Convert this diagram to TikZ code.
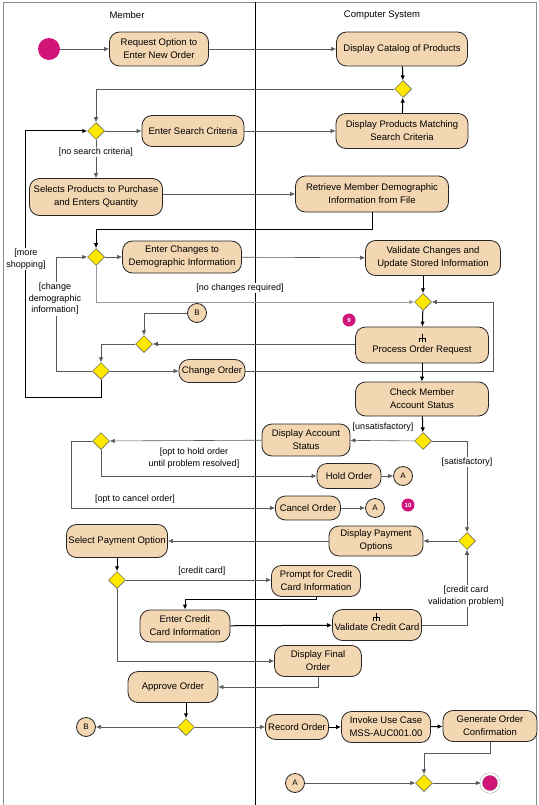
\documentclass[tikz,border=0pt]{standalone}
\usepackage{fontspec}
\setmainfont{Liberation Sans}
\usetikzlibrary{shapes.geometric, arrows.meta, positioning}

\definecolor{actfill}{RGB}{243,214,178}
\definecolor{decfill}{RGB}{255,232,0}
\definecolor{startfill}{RGB}{208,20,120}

\tikzset{
  act/.style={draw=black!85, line width=0.8pt, fill=actfill, rounded corners=10pt, align=center, inner sep=1pt, font=\fontsize{9.5}{13}\selectfont},
  dec/.style={diamond, draw=black!70, line width=0.5pt, fill=decfill, minimum width=17pt, minimum height=17pt, inner sep=0pt},
  conn/.style={circle, draw=black!85, line width=0.8pt, fill=actfill, minimum size=19pt, inner sep=0pt, font=\fontsize{8}{9}\selectfont},
  guard/.style={fill=white, inner sep=1pt, align=center, font=\fontsize{9}{11.5}\selectfont},
  flow/.style={draw=black!65, line width=0.6pt, -{Latex[length=5pt,width=4.5pt]}},
  flowthick/.style={flow, draw=black, line width=1pt},
  note/.style={circle, fill=startfill, minimum size=13pt, inner sep=0pt, text=white, font=\fontsize{6}{6}\selectfont\bfseries},
}

\newcommand{\rakeat}[1]{\draw[line width=0.6pt] #1 ++(0,-4) -- ++(0,8) #1 ++(-3,0) -- ++(6,0) -- ++(0,4) #1 ++(-3,0) -- ++(0,4);}

\begin{document}
\begin{tikzpicture}[x=1pt, y=-1pt]
        \useasboundingbox (0,0) rectangle (538,805);

        % swimlanes
        \draw[black!45, line width=0.6pt] (3,805) -- (3,2) -- (536,2) -- (536,805);
        \draw[black, line width=0.7pt] (255,2) -- (255,805);
        \node[font=\fontsize{9.5}{11}\selectfont] (member) at (127,15) {Member};
        \node[font=\fontsize{9.5}{11}\selectfont] (system) at (382,15) {Computer System};

        % ordering
        \node[circle, fill=startfill, minimum size=22pt, inner sep=0pt] (start) at (49,49) {};
        \node[act, minimum width=99pt, minimum height=34pt] (req) at (159,49) {Request Option to\\Enter New Order};
        \node[act, minimum width=131pt, minimum height=34pt] (cat) at (402,49) {Display Catalog of Products};
        \node[dec] (d1) at (403,89) {};
        \node[act, minimum width=132pt, minimum height=35pt] (match) at (402,131) {Display Products Matching\\Search Criteria};
        \node[dec] (d2) at (96,131) {};
        \node[act, minimum width=102pt, minimum height=31pt] (search) at (193,131) {Enter Search Criteria};
        \node[act, minimum width=133pt, minimum height=37pt] (sel) at (96,197) {Selects Products to Purchase\\and Enters Quantity};
        \node[act, minimum width=153pt, minimum height=36pt] (ret) at (372,194) {Retrieve Member Demographic\\Information from File};

        % demographics
        \node[dec] (d3) at (96,257) {};
        \node[act, minimum width=119pt, minimum height=32pt] (chg) at (182,257) {Enter Changes to\\Demographic Information};
        \node[act, minimum width=135pt, minimum height=35pt] (val) at (433,258) {Validate Changes and\\Update Stored Information};
        \node[dec] (d4) at (423,302) {};
        \node[conn] (b1) at (197,313) {B};
        \node[act, minimum width=133pt, minimum height=36pt] (proc) at (422,345) {\rule{0pt}{16pt}Process Order Request};
        \node[dec] (d5) at (144,344) {};
        \node[dec] (d6) at (101,371) {};
        \node[act, minimum width=66pt, minimum height=23pt] (co) at (212,371) {Change Order};
        \node[act, minimum width=133pt, minimum height=34pt] (chk) at (422,399) {Check Member\\Account Status};
        \coordinate (ms) at (25,397);
        \coordinate (cd) at (56,371);
        \coordinate (cr) at (493,371);

        % account status
        \node[dec] (d7) at (423,441) {};
        \node[act, minimum width=88pt, minimum height=32pt] (das) at (306,440) {Display Account\\Status};
        \node[dec] (d8) at (101,441) {};
        \node[act, minimum width=64pt, minimum height=25pt] (hold) at (349,476) {Hold Order};
        \node[conn] (a1) at (403,476) {A};
        \node[act, minimum width=65pt, minimum height=24pt] (cancel) at (308,508) {Cancel Order};
        \node[conn] (a2) at (375,508) {A};
        \coordinate (cc) at (71,441);

        % payment
        \node[act, minimum width=94pt, minimum height=30pt] (dpo) at (376,541) {Display Payment\\Options};
        \node[dec] (d9) at (467,541) {};
        \node[act, minimum width=101pt, minimum height=33pt] (spo) at (117,541) {Select Payment Option};
        \node[dec] (d10) at (117,580) {};
        \node[act, minimum width=89pt, minimum height=31pt] (prompt) at (316,581) {Prompt for Credit\\Card Information};
        \node[act, minimum width=90pt, minimum height=32pt] (ecc) at (185,626) {Enter Credit\\Card Information};
        \node[act, minimum width=89pt, minimum height=31pt] (vcc) at (377,625) {\rule{0pt}{11pt}Validate Credit Card};
        \node[act, minimum width=87pt, minimum height=31pt] (dfo) at (318,661) {Display Final\\Order};
        \node[act, minimum width=90pt, minimum height=31pt] (app) at (173,687) {Approve Order};

        % completion
        \node[dec] (d11) at (186,727) {};
        \node[conn] (b2) at (86,727) {B};
        \node[act, minimum width=63pt, minimum height=25pt] (rec) at (297,727) {Record Order};
        \node[act, minimum width=89pt, minimum height=31pt] (inv) at (386,727) {Invoke Use Case\\MSS-AUC001.00};
        \node[act, minimum width=94pt, minimum height=31pt] (gen) at (490,726) {Generate Order\\Confirmation};
        \node[conn] (a3) at (295,783) {A};
        \node[dec] (d12) at (424,783) {};
        \node[circle, fill=startfill, draw=black!40, line width=0.4pt, double=white, double distance=2pt, minimum size=18pt, inner sep=0pt] (fin) at (490,783) {};

        \node[note] (n9) at (349,320) {9};
        \node[note] (n10) at (408,505) {10};

        \rakeat{(422,338)}
        \rakeat{(376,617)}

        % flows
        \draw[flow] (start) -- (req);
        \draw[flow] (req) -- (cat);
        \draw[flowthick] (cat) -- (d1);
        \draw[flowthick] (match) -- (d1);
        \draw[flow] (d1) -| (d2);
        \draw[flow] (d2) -- (search);
        \draw[flow] (search) -- (match);
        \draw[flow] (d2) -- (sel);
        \draw[flow] (sel.east |- ret) -- (ret.west);
        \draw[flowthick] (ret.south) -- ++(0,17) -| (d3);
        \draw[flow] (d3) -- (chg);
        \draw[flow] (chg) -- (val);
        \draw[flowthick] (d4 |- val.south) -- (d4);
        \draw[flow, draw=black!40] (d3) |- (d4);
        \draw[flow] (co) -- (cr) |- (d4);
        \draw[flowthick] (d4) -- (proc);
        \draw[flowthick] (proc) -- (chk);
        \draw[flow] (proc.west |- d5) -- (d5);
        \draw[flow] (b1) -| (d5);
        \draw[flow] (d5) -| (d6);
        \draw[flow] (d6) -- (co);
        \draw[flow] (d6) -- (cd) |- (d3);
        \draw[flowthick] (d6) |- (ms) |- (d2);
        \draw[flowthick] (chk) -- (d7);
        \draw[flow] (d7) -- (das);
        \draw[flow] (das) -- (d8);
        \draw[flow] (d8) |- (hold);
        \draw[flow] (hold) -- (a1);
        \draw[flow] (d8) -- (cc) |- (cancel);
        \draw[flow] (cancel) -- (a2);
        \draw[flow] (d7) -| (d9);
        \draw[flow] (d9) -- (dpo);
        \draw[flow] (dpo) -- (spo);
        \draw[flowthick] (spo) -- (d10);
        \draw[flow] (d10) -- (d10 -| prompt.west);
        \draw[flowthick] (prompt.south) -- ++(0,2.5) -| (ecc);
        \draw[flowthick] (ecc) -- (vcc);
        \draw[flow] (vcc) -| (d9);
        \draw[flow] (d10) |- (dfo);
        \draw[flow] (dfo.south) |- (app);
        \draw[flowthick] (d11 |- app.south) -- (d11);
        \draw[flow] (d11) -- (b2);
        \draw[flow] (d11) -- (rec);
        \draw[flowthick] (rec) -- (inv);
        \draw[flowthick] (inv) -- (gen);
        \draw[flow] (gen.south) -- ++(0,11) -| (d12);
        \draw[flow] (a3) -- (d12);
        \draw[flow] (d12) -- (fin);

        % guards
        \node[guard] (g1) at (96,152) {[no search criteria]};
        \node[guard] (g2) at (26,259) {[more\\shopping]};
        \node[guard] (g3) at (55,299) {[change\\demographic\\information]};
        \node[guard] (g4) at (240,288) {[no changes required]};
        \node[guard] (g5) at (383,427) {[unsatisfactory]};
        \node[guard] (g6) at (194,458) {[opt to hold order\\until problem resolved]};
        \node[guard] (g7) at (467,462) {[satisfactory]};
        \node[guard] (g8) at (135,499) {[opt to cancel order]};
        \node[guard] (g9) at (202,571) {[credit card]};
        \node[guard] (g10) at (466,596) {[credit card\\validation problem]};
    \end{tikzpicture}
\end{document}
